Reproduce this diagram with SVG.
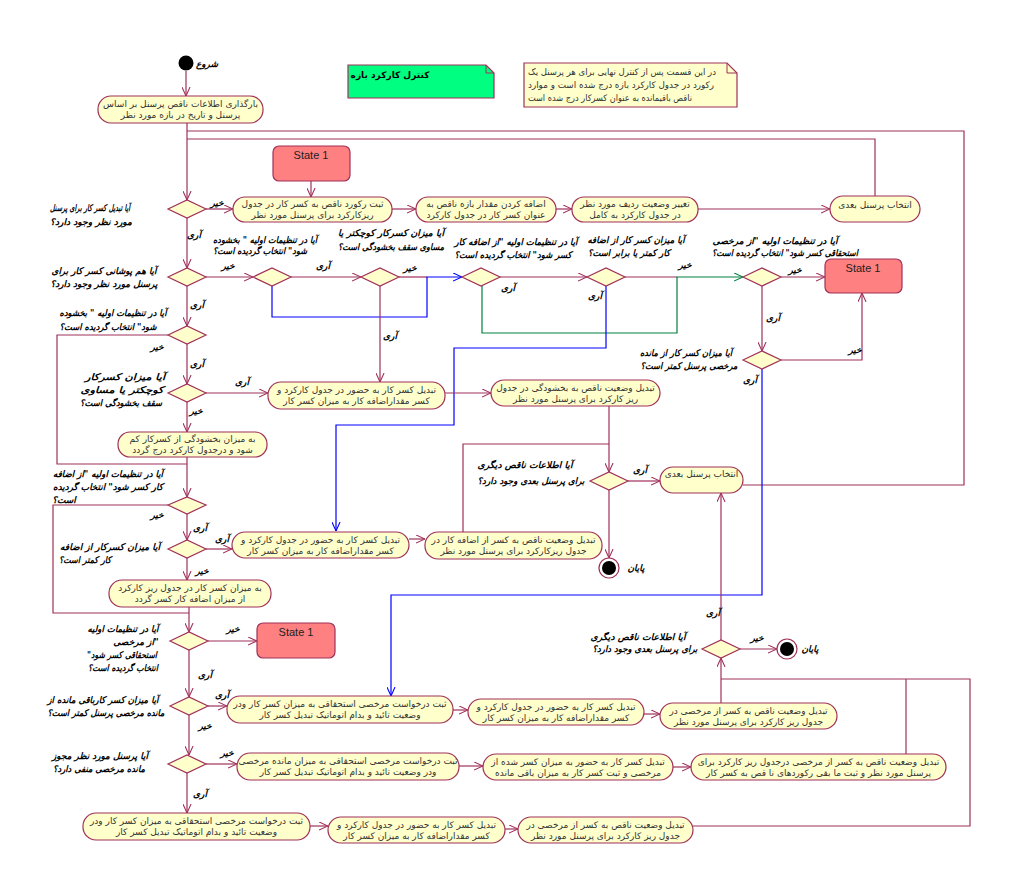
<svg xmlns="http://www.w3.org/2000/svg" width="1024" height="886" viewBox="0 0 1024 886">
<style>
.act{fill:#FFFFCC;stroke:#A0305A;stroke-width:1.2}
.st{fill:#FF8080;stroke:#A0305A;stroke-width:1.2}
.ln{fill:none;stroke:#A0305A;stroke-width:1.2}
.lb{fill:none;stroke:#0000FF;stroke-width:1.2}
.lg{fill:none;stroke:#008040;stroke-width:1.2}
.t{font-family:"DejaVu Sans",sans-serif;font-size:9px;fill:#333;text-anchor:middle;direction:rtl}
.q{font-family:"DejaVu Sans",sans-serif;font-size:9px;font-weight:bold;font-style:italic;fill:#000;text-anchor:middle;direction:rtl}
.s{font-family:"Liberation Sans",Arial,sans-serif;font-size:11px;fill:#222;text-anchor:middle}
</style>
<defs>
<marker id="ar" viewBox="0 0 10 10" refX="10" refY="5" markerWidth="9" markerHeight="9" orient="auto" markerUnits="userSpaceOnUse"><path d="M0,0.5 L10,5 L0,9.5" fill="none" stroke="#A0305A" stroke-width="1.2"/></marker>
<marker id="ab" viewBox="0 0 10 10" refX="10" refY="5" markerWidth="9" markerHeight="9" orient="auto" markerUnits="userSpaceOnUse"><path d="M0,0.5 L10,5 L0,9.5" fill="none" stroke="#0000FF" stroke-width="1.2"/></marker>
<marker id="ag" viewBox="0 0 10 10" refX="10" refY="5" markerWidth="9" markerHeight="9" orient="auto" markerUnits="userSpaceOnUse"><path d="M0,0.5 L10,5 L0,9.5" fill="none" stroke="#008040" stroke-width="1.2"/></marker>
</defs>
<rect width="1024" height="886" fill="#FFFFFF"/>

<g id="connectors">
<path class="ln" d="M186,71 V96" marker-end="url(#ar)"/>
<path class="ln" d="M187,123 V200" marker-end="url(#ar)"/>
<path class="ln" d="M743,485 H964 V131 H187"/>
<path class="ln" d="M875,196 V139 H187"/>
<path class="ln" d="M311,181 V197" marker-end="url(#ar)"/>
<path class="ln" d="M206,209 H233" marker-end="url(#ar)"/>
<path class="ln" d="M392,209 H416" marker-end="url(#ar)"/>
<path class="ln" d="M556,209 H572" marker-end="url(#ar)"/>
<path class="ln" d="M698,209 H830" marker-end="url(#ar)"/>
<path class="ln" d="M187,218 V268" marker-end="url(#ar)"/>
<path class="ln" d="M206,277 H253" marker-end="url(#ar)"/>
<path class="ln" d="M291,277 H361" marker-end="url(#ar)"/>
<path class="ln" d="M399,277 H427"/>
<path class="lb" d="M272,286 V317 H427 V277 H462" marker-end="url(#ab)"/>
<path class="ln" d="M380,286 V382" marker-end="url(#ar)"/>
<path class="ln" d="M500,277 H587" marker-end="url(#ar)"/>
<path class="ln" d="M625,277 H677"/>
<path class="lg" d="M482,286 V333 H677 V277 H743" marker-end="url(#ag)"/>
<path class="lb" d="M606,286 V348 H454 V425 H336 V531" marker-end="url(#ab)"/>
<path class="ln" d="M781,277 H825" marker-end="url(#ar)"/>
<path class="ln" d="M762,286 V351" marker-end="url(#ar)"/>
<path class="ln" d="M781,360 H862 V293" marker-end="url(#ar)"/>
<path class="lb" d="M762,369 V595 H391 V696" marker-end="url(#ab)"/>
<path class="ln" d="M187,286 V326" marker-end="url(#ar)"/>
<path class="ln" d="M168,335 H57 V464 H187"/>
<path class="ln" d="M187,344 V384" marker-end="url(#ar)"/>
<path class="ln" d="M206,393 H268" marker-end="url(#ar)"/>
<path class="ln" d="M445,393 H491" marker-end="url(#ar)"/>
<path class="ln" d="M609,406 V472" marker-end="url(#ar)"/>
<path class="ln" d="M463,532 V444 H609"/>
<path class="ln" d="M628,481 H660" marker-end="url(#ar)"/>
<path class="ln" d="M609,490 V558" marker-end="url(#ar)"/>
<path class="ln" d="M187,402 V432" marker-end="url(#ar)"/>
<path class="ln" d="M187,457 V497" marker-end="url(#ar)"/>
<path class="ln" d="M168,505 H53 V613 H189"/>
<path class="ln" d="M187,514 V540" marker-end="url(#ar)"/>
<path class="ln" d="M206,549 H232" marker-end="url(#ar)"/>
<path class="ln" d="M409,539 H425" marker-end="url(#ar)"/>
<path class="ln" d="M187,558 V580" marker-end="url(#ar)"/>
<path class="ln" d="M189,607 V632" marker-end="url(#ar)"/>
<path class="ln" d="M208,641 H257" marker-end="url(#ar)"/>
<path class="ln" d="M189,650 V697" marker-end="url(#ar)"/>
<path class="ln" d="M208,706 H227" marker-end="url(#ar)"/>
<path class="ln" d="M453,710 H468" marker-end="url(#ar)"/>
<path class="ln" d="M644,714 H660" marker-end="url(#ar)"/>
<path class="ln" d="M721,703 V658" marker-end="url(#ar)"/>
<path class="ln" d="M721,679 H970 V826 H693"/>
<path class="ln" d="M906,679 V754"/>
<path class="ln" d="M721,640 V493" marker-end="url(#ar)"/>
<path class="ln" d="M740,649 H777" marker-end="url(#ar)"/>
<path class="ln" d="M189,715 V755" marker-end="url(#ar)"/>
<path class="ln" d="M206,764 H237" marker-end="url(#ar)"/>
<path class="ln" d="M459,766 H483" marker-end="url(#ar)"/>
<path class="ln" d="M673,767 H691" marker-end="url(#ar)"/>
<path class="ln" d="M187,773 V813" marker-end="url(#ar)"/>
<path class="ln" d="M310,826 H328" marker-end="url(#ar)"/>
<path class="ln" d="M505,829 H518" marker-end="url(#ar)"/>
</g>

<g id="guards">
<text class="q" x="217" y="206">خیر</text>
<text class="q" x="194" y="238">آری</text>
<text class="q" x="228" y="269">خیر</text>
<text class="q" x="323" y="269">آری</text>
<text class="q" x="410" y="271">خیر</text>
<text class="q" x="508" y="291">آری</text>
<text class="q" x="595" y="299">آری</text>
<text class="q" x="390" y="339">آری</text>
<text class="q" x="685" y="268">خیر</text>
<text class="q" x="795" y="273">خیر</text>
<text class="q" x="773" y="321">آری</text>
<text class="q" x="855" y="353">خیر</text>
<text class="q" x="750" y="383">آری</text>
<text class="q" x="197" y="308">آری</text>
<text class="q" x="157" y="350">خیر</text>
<text class="q" x="197" y="367">آری</text>
<text class="q" x="242" y="385">آری</text>
<text class="q" x="196" y="414">خیر</text>
<text class="q" x="157" y="518">خیر</text>
<text class="q" x="200" y="531">آری</text>
<text class="q" x="222" y="542">آری</text>
<text class="q" x="202" y="574">خیر</text>
<text class="q" x="233" y="632">خیر</text>
<text class="q" x="205" y="678">آری</text>
<text class="q" x="222" y="698">آری</text>
<text class="q" x="205" y="729">خیر</text>
<text class="q" x="227" y="756">خیر</text>
<text class="q" x="200" y="797">آری</text>
<text class="q" x="640" y="473">آری</text>
<text class="q" x="713" y="616">آری</text>
<text class="q" x="757" y="641">خیر</text>
</g>

<g id="start"><circle cx="186" cy="63" r="7.5" fill="#000"/><text class="q" x="207" y="67">شروع</text></g>

<g id="title"><path d="M348,65 H486 L494,73 V98 H348 Z" fill="#00FF80" stroke="#A0305A" stroke-width="1.2"/><path d="M486,65 V73 H494" fill="none" stroke="#A0305A"/><text class="q" x="390" y="78" style="font-style:normal">کنترل کارکرد بازه</text></g>

<g id="note"><path d="M524,63 H727 L737,73 V107 H524 Z" fill="#FFFFCC" stroke="#A0305A" stroke-width="1.2"/><path d="M727,63 V73 H737" fill="none" stroke="#A0305A"/>
<text class="t" x="622" y="75" textLength="188" lengthAdjust="spacingAndGlyphs">در این قسمت پس از کنترل نهایی برای هر پرسنل یک</text>
<text class="t" x="621" y="88" textLength="186" lengthAdjust="spacingAndGlyphs">رکورد در جدول کارکرد بازه درج شده است و موارد</text>
<text class="t" x="610" y="101" textLength="164" lengthAdjust="spacingAndGlyphs">ناقص باقیمانده به عنوان کسرکار درج شده است</text></g>

<g id="a1"><rect class="act" x="98" y="96" width="165" height="27" rx="13"/><text class="t" x="180.5" y="107">بارگذاری اطلاعات ناقص پرسنل بر اساس</text><text class="t" x="180.5" y="118">پرسنل و تاریخ در بازه مورد نظر</text></g>
<g id="s1"><rect class="st" x="273" y="146" width="77" height="35" rx="6"/><text class="s" x="311" y="159">State 1</text></g>
<g id="a2"><rect class="act" x="233" y="197" width="159" height="25" rx="12"/><text class="t" x="312.5" y="207">ثبت رکورد ناقص به کسر کار در جدول</text><text class="t" x="312.5" y="218">ریزکارکرد برای پرسنل مورد نظر</text></g>
<g id="a3"><rect class="act" x="416" y="197" width="140" height="25" rx="12"/><text class="t" x="486" y="207">اضافه کردن مقدار بازه ناقص به</text><text class="t" x="486" y="218">عنوان کسر کار در جدول کارکرد</text></g>
<g id="a4"><rect class="act" x="572" y="197" width="126" height="25" rx="12"/><text class="t" x="635" y="207">تغییر وضعیت ردیف مورد نظر</text><text class="t" x="635" y="218">در جدول کارکرد به کامل</text></g>
<g id="n1"><rect class="act" x="830" y="196" width="90" height="26" rx="13"/><text class="t" x="875" y="208">انتخاب پرسنل بعدی</text></g>

<g id="d1"><polygon class="act" points="168,209 187,200 206,209 187,218"/><text class="q" x="90" y="211" textLength="80" lengthAdjust="spacingAndGlyphs">آیا تبدیل کسر کار برای پرسنل</text><text class="q" x="91" y="225" textLength="82" lengthAdjust="spacingAndGlyphs">مورد نظر وجود دارد؟</text></g>
<g id="d2"><polygon class="act" points="168,277 187,268 206,277 187,286"/><text class="q" x="104" y="274" textLength="105" lengthAdjust="spacingAndGlyphs">آیا هم پوشانی کسر کار برای</text><text class="q" x="104" y="287" textLength="107" lengthAdjust="spacingAndGlyphs">پرسنل مورد نظر وجود دارد؟</text></g>
<g id="d3"><polygon class="act" points="253,277 272,268 291,277 272,286"/><text class="q" x="265" y="243" textLength="104" lengthAdjust="spacingAndGlyphs">آیا در تنظیمات اولیه " بخشوده</text><text class="q" x="260" y="254" textLength="94" lengthAdjust="spacingAndGlyphs">شود" انتخاب گردیده است؟</text></g>
<g id="d4"><polygon class="act" points="361,277 380,268 399,277 380,286"/><text class="q" x="391" y="236" textLength="106" lengthAdjust="spacingAndGlyphs">آیا میزان کسرکار کوچکتر یا</text><text class="q" x="391" y="250" textLength="106" lengthAdjust="spacingAndGlyphs">مساوی سقف بخشودگی است؟</text></g>
<g id="d5"><polygon class="act" points="462,277 481,268 500,277 481,286"/><text class="q" x="516" y="245" textLength="123" lengthAdjust="spacingAndGlyphs">آیا در تنظیمات اولیه "از اضافه کار</text><text class="q" x="513" y="258" textLength="117" lengthAdjust="spacingAndGlyphs">کسر شود" انتخاب گردیده است؟</text></g>
<g id="d6"><polygon class="act" points="587,277 606,268 625,277 606,286"/><text class="q" x="636" y="243" textLength="97" lengthAdjust="spacingAndGlyphs">آیا میزان کسر کار از اضافه</text><text class="q" x="629" y="256" textLength="82" lengthAdjust="spacingAndGlyphs">کار کمتر یا برابر است؟</text></g>
<g id="d7"><polygon class="act" points="743,277 762,268 781,277 762,286"/><text class="q" x="775" y="244" textLength="125" lengthAdjust="spacingAndGlyphs">آیا در تنظیمات اولیه "از مرخصی</text><text class="q" x="785" y="256" textLength="146" lengthAdjust="spacingAndGlyphs">استحقاقی کسر شود" انتخاب گردیده است؟</text></g>
<g id="s2"><rect class="st" x="825" y="259" width="77" height="34" rx="6"/><text class="s" x="863" y="272">State 1</text></g>
<g id="d8"><polygon class="act" points="743,360 762,351 781,360 762,369"/><text class="q" x="686" y="356" textLength="92" lengthAdjust="spacingAndGlyphs">آیا میزان کسر کار از مانده</text><text class="q" x="689" y="369" textLength="97" lengthAdjust="spacingAndGlyphs">مرخصی پرسنل کمتر است؟</text></g>
<g id="d9"><polygon class="act" points="168,335 187,326 206,335 187,344"/><text class="q" x="113" y="316" textLength="107" lengthAdjust="spacingAndGlyphs">آیا در تنظیمات اولیه " بخشوده</text><text class="q" x="108" y="330" textLength="97" lengthAdjust="spacingAndGlyphs">شود" انتخاب گردیده است؟</text></g>
<g id="d10"><polygon class="act" points="168,393 187,384 206,393 187,402"/><text class="q" x="125" y="380" textLength="80" lengthAdjust="spacingAndGlyphs">آیا میزان کسرکار</text><text class="q" x="122" y="393" textLength="83" lengthAdjust="spacingAndGlyphs">کوچکتر یا مساوی</text><text class="q" x="121" y="406" textLength="82" lengthAdjust="spacingAndGlyphs">سقف بخشودگی است؟</text></g>
<g id="a5"><rect class="act" x="268" y="382" width="177" height="27" rx="13"/><text class="t" x="356.5" y="393">تبدیل کسر کار به حضور در جدول کارکرد و</text><text class="t" x="356.5" y="404">کسر مقداراضافه کار به میزان کسر کار</text></g>
<g id="a6"><rect class="act" x="491" y="380" width="169" height="26" rx="13"/><text class="t" x="575.5" y="391">تبدیل وضعیت ناقص به بخشودگی در جدول</text><text class="t" x="575.5" y="402">ریز کارکرد برای پرسنل مورد نظر</text></g>
<g id="al1"><rect class="act" x="118" y="432" width="149" height="25" rx="12"/><text class="t" x="192.5" y="442">به میزان بخشودگی از کسرکار کم</text><text class="t" x="192.5" y="453">شود و درجدول کارکرد درج گردد</text></g>
<g id="d11"><polygon class="act" points="590,481 609,472 628,481 609,490"/><text class="q" x="525" y="468" textLength="95" lengthAdjust="spacingAndGlyphs">آیا اطلاعات ناقص دیگری</text><text class="q" x="531" y="484" textLength="107" lengthAdjust="spacingAndGlyphs">برای پرسنل بعدی وجود دارد؟</text></g>
<g id="n2"><rect class="act" x="660" y="467" width="83" height="26" rx="13"/><text class="t" x="701.5" y="477">انتخاب پرسنل بعدی</text></g>
<g id="end1"><circle cx="609" cy="568" r="10" fill="#FFFFFF" stroke="#A0305A" stroke-width="1.2"/><circle cx="609" cy="568" r="7" fill="#000"/><text class="q" x="636" y="571">پایان</text></g>
<g id="d12"><polygon class="act" points="168,505 187,497 206,505 187,514"/><text class="q" x="108" y="477" textLength="110" lengthAdjust="spacingAndGlyphs">آیا در تنظیمات اولیه "از اضافه</text><text class="q" x="108" y="490" textLength="110" lengthAdjust="spacingAndGlyphs">کار کسر شود" انتخاب گردیده</text><text class="q" x="64" y="503">است؟</text></g>
<g id="d13"><polygon class="act" points="168,549 187,540 206,549 187,558"/><text class="q" x="110" y="550" textLength="100" lengthAdjust="spacingAndGlyphs">آیا میزان کسرکار از اضافه</text><text class="q" x="85" y="563" textLength="52" lengthAdjust="spacingAndGlyphs">کار کمتر است؟</text></g>
<g id="a7"><rect class="act" x="232" y="532" width="177" height="26" rx="13"/><text class="t" x="320.5" y="543">تبدیل کسر کار به حضور در جدول کارکرد و</text><text class="t" x="320.5" y="554">کسر مقداراضافه کار به میزان کسر کار</text></g>
<g id="a8"><rect class="act" x="425" y="532" width="177" height="27" rx="13"/><text class="t" x="513.5" y="543">تبدیل وضعیت ناقص به کسر از اضافه کار در</text><text class="t" x="513.5" y="554">جدول ریزکارکرد برای پرسنل مورد نظر</text></g>
<g id="al2"><rect class="act" x="109" y="580" width="162" height="27" rx="13"/><text class="t" x="190" y="591">به میزان کسر کار در جدول ریز کارکرد</text><text class="t" x="190" y="602">از میزان اضافه کار کسر گردد</text></g>
<g id="d15"><polygon class="act" points="170,641 189,632 208,641 189,650"/><text class="q" x="123" y="632" textLength="71" lengthAdjust="spacingAndGlyphs">آیا در تنظیمات اولیه</text><text class="q" x="136" y="645">"از مرخصی</text><text class="q" x="122" y="658" textLength="70" lengthAdjust="spacingAndGlyphs">استحقاقی کسر شود"</text><text class="q" x="123" y="671" textLength="70" lengthAdjust="spacingAndGlyphs">انتخاب گردیده است؟</text></g>
<g id="s3"><rect class="st" x="257" y="623" width="78" height="35" rx="6"/><text class="s" x="296" y="636">State 1</text></g>
<g id="d16"><polygon class="act" points="170,706 189,697 208,706 189,715"/><text class="q" x="103" y="703" textLength="111" lengthAdjust="spacingAndGlyphs">آیا میزان کسر کارباقی مانده از</text><text class="q" x="106" y="716" textLength="117" lengthAdjust="spacingAndGlyphs">مانده مرخصی پرسنل کمتر است؟</text></g>
<g id="a14"><rect class="act" x="227" y="696" width="226" height="27" rx="13"/><text class="t" x="340" y="707">ثبت درخواست مرخصی استحقاقی به میزان کسر کار ودر</text><text class="t" x="340" y="718">وضعیت تائید و بدام اتوماتیک تبدیل کسر کار</text></g>
<g id="a15"><rect class="act" x="468" y="699" width="176" height="26" rx="13"/><text class="t" x="556" y="710">تبدیل کسر کار به حضور در جدول کارکرد و</text><text class="t" x="556" y="721">کسر مقداراضافه کار به میزان کسر کار</text></g>
<g id="a16"><rect class="act" x="660" y="703" width="177" height="26" rx="13"/><text class="t" x="748.5" y="714">تبدیل وضعیت ناقص به کسر از مرخصی در</text><text class="t" x="748.5" y="725">جدول ریز کارکرد برای پرسنل مورد نظر</text></g>
<g id="d14"><polygon class="act" points="702,649 721,640 740,649 721,658"/><text class="q" x="638" y="640" textLength="95" lengthAdjust="spacingAndGlyphs">آیا اطلاعات ناقص دیگری</text><text class="q" x="645" y="652" textLength="105" lengthAdjust="spacingAndGlyphs">برای پرسنل بعدی وجود دارد؟</text></g>
<g id="end2"><circle cx="787" cy="649" r="10" fill="#FFFFFF" stroke="#A0305A" stroke-width="1.2"/><circle cx="787" cy="649" r="7" fill="#000"/><text class="q" x="810" y="652">پایان</text></g>
<g id="d17"><polygon class="act" points="168,764 187,755 206,764 187,773"/><text class="q" x="100" y="759" textLength="96" lengthAdjust="spacingAndGlyphs">آیا پرسنل مورد نظر مجوز</text><text class="q" x="99" y="772" textLength="92" lengthAdjust="spacingAndGlyphs">مانده مرخصی منفی دارد؟</text></g>
<g id="a17"><rect class="act" x="237" y="753" width="222" height="27" rx="13"/><text class="t" x="348" y="764">ثبت درخواست مرخصی استحقاقی به میزان مانده مرخصی</text><text class="t" x="348" y="775">ودر وضعیت تائید و بدام اتوماتیک تبدیل کسر کار</text></g>
<g id="a18a"><rect class="act" x="483" y="754" width="190" height="26" rx="13"/><text class="t" x="578" y="765">تبدیل کسر کار به حضور به میزان کسر شده از</text><text class="t" x="578" y="776">مرخصی و ثبت کسر کار به میزان باقی مانده</text></g>
<g id="a18b"><rect class="act" x="691" y="754" width="255" height="26" rx="13"/><text class="t" x="818.5" y="765">تبدیل وضعیت ناقص به کسر از مرخصی درجدول ریز کارکرد برای</text><text class="t" x="818.5" y="776">پرسنل مورد نظر و ثبت ما بقی رکوردهای نا قص به کسر کار</text></g>
<g id="a19"><rect class="act" x="83" y="813" width="227" height="27" rx="13"/><text class="t" x="196.5" y="824">ثبت درخواست مرخصی استحقاقی به میزان کسر کار ودر</text><text class="t" x="196.5" y="835">وضعیت تائید و بدام اتوماتیک تبدیل کسر کار</text></g>
<g id="a20"><rect class="act" x="328" y="817" width="177" height="26" rx="13"/><text class="t" x="416.5" y="828">تبدیل کسر کار به حضور در جدول کارکرد و</text><text class="t" x="416.5" y="839">کسر مقداراضافه کار به میزان کسر کار</text></g>
<g id="a21"><rect class="act" x="518" y="817" width="175" height="26" rx="13"/><text class="t" x="605.5" y="828">تبدیل وضعیت ناقص به کسر از مرخصی در</text><text class="t" x="605.5" y="839">جدول ریز کارکرد برای پرسنل مورد نظر</text></g>
</svg>
